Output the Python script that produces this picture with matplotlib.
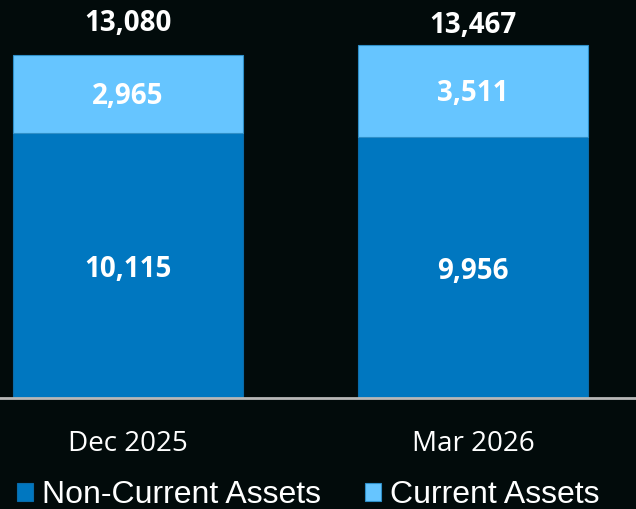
import numpy as np
import matplotlib.pyplot as plt

# data
periods = ['Dec 2025', 'Mar 2026']
non_current = [10115, 9956]
current = [2965, 3511]
totals = [a + b for a, b in zip(non_current, current)]
total_offsets = [23, 14]  # pts above bar top, as in the slide

bg = '#020b0b'
dark_blue = '#0077c0'
light_blue = '#66c5ff'

fig = plt.figure(figsize=(6.36, 5.09), dpi=100, facecolor=bg)
ax = fig.add_axes([0, 111 / 509, 1, 398 / 509])
ax.set_facecolor(bg)

x = np.arange(len(periods))
w = 0.667
b1 = ax.bar(x, non_current, w, color=dark_blue, edgecolor='#0a6aa8', linewidth=0.8,
            label='Non-Current Assets')
b2 = ax.bar(x, current, w, bottom=non_current, color=light_blue, edgecolor='#2f8fc8',
            linewidth=0.8, label='Current Assets')

ax.set_xlim(-0.371, 1.472)
ax.set_ylim(0, 15179)

lab_font = dict(family='Open Sans', weight='bold', size=20, color='white')
for i in range(len(periods)):
    ax.annotate(f'{non_current[i]:,}', (x[i], non_current[i] / 2), xytext=(0, -3),
                textcoords='offset points', ha='center', va='center', **lab_font)
    ax.annotate(f'{current[i]:,}', (x[i], non_current[i] + current[i] / 2), xytext=(0, -2),
                textcoords='offset points', ha='center', va='center', **lab_font)
    ax.annotate(f'{totals[i]:,}', (x[i], totals[i]), xytext=(0, total_offsets[i]),
                textcoords='offset points', ha='center', va='center',
                annotation_clip=False, **lab_font)

ax.set_yticks([])
ax.set_xticks(x)
ax.set_xticklabels(periods, family='Open Sans', fontsize=20, color='white')
ax.tick_params(axis='x', length=0, pad=23)
for s in ['top', 'left', 'right']:
    ax.spines[s].set_visible(False)
ax.spines['bottom'].set_color('#b8b8b8')
ax.spines['bottom'].set_linewidth(2)

fig.legend(handles=[b1, b2], loc='center left', bbox_to_anchor=(17 / 636, 14 / 509),
           ncol=2, frameon=False, borderpad=0, borderaxespad=0,
           handlelength=0.5, handleheight=0.5, handletextpad=0.28, columnspacing=1.37,
           prop={'family': 'Liberation Sans', 'size': 23}, labelcolor='white')

fig.savefig('out.png', dpi=100, facecolor=bg)
